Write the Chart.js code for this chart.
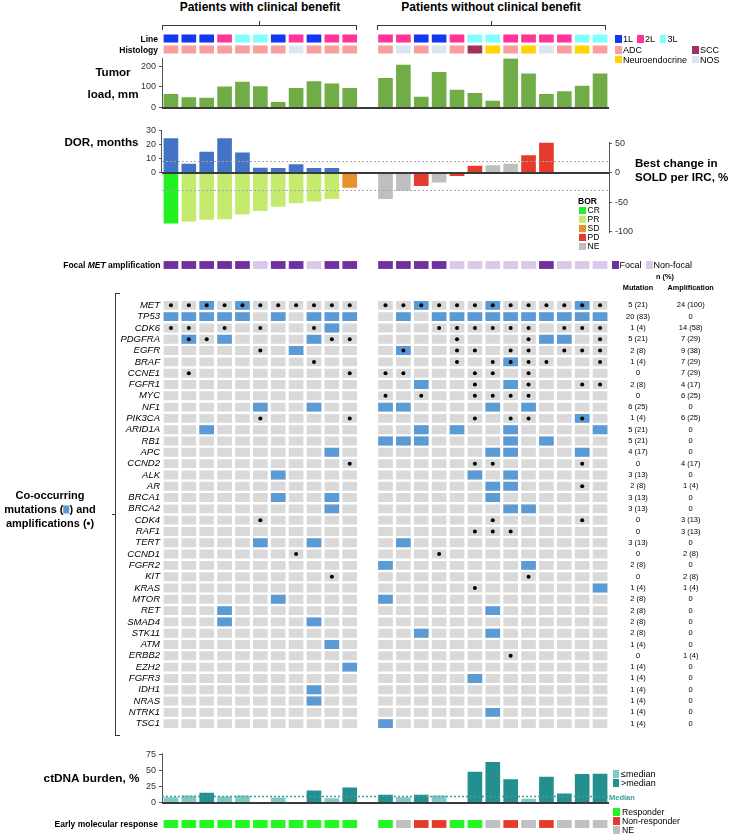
<!DOCTYPE html>
<html>
<head>
<meta charset="utf-8">
<title>Co-occurring alterations oncoprint</title>
<script src="https://cdn.jsdelivr.net/npm/chart.js@4.4.1/dist/chart.umd.min.js"></script>
<style>
  html,body{margin:0;padding:0;background:#fff;}
  #root{position:relative;width:729px;height:835px;overflow:hidden;font-family:'Liberation Sans',Arial,Helvetica,sans-serif;color:#000;}
  .t{position:absolute;white-space:nowrap;line-height:1;}
  .sq{position:absolute;}
  .ln{position:absolute;background:#3a3a3a;}
</style>
</head>
<body>
<div id="root"></div>
<script>
// ================= DATA =================
const leftPatients  = ['L1','L2','L3','L4','L5','L6','L7','L8','L9','L10','L11'];
const rightPatients = ['R1','R2','R3','R4','R5','R6','R7','R8','R9','R10','R11','R12','R13'];
const gapSlot = 'gap';
const categories = [...leftPatients, gapSlot, ...rightPatients];
const patients = [...leftPatients, ...rightPatients];

const groupTitles = ['Patients with clinical benefit', 'Patients without clinical benefit'];

const lineOfTherapy = ['1L','1L','1L','2L','3L','3L','1L','2L','1L','2L','2L',
                       '2L','2L','1L','1L','2L','3L','3L','2L','2L','2L','2L','3L','3L'];
const lineLevels = ['1L','2L','3L'];

const histology = ['ADC','ADC','ADC','ADC','ADC','ADC','ADC','NOS','ADC','ADC','ADC',
                   'ADC','NOS','ADC','NOS','ADC','SCC','Neuroendocrine','ADC','Neuroendocrine','NOS','ADC','Neuroendocrine','ADC'];

const tumorLoad = [64,48,46,101,123,102,26,93,126,115,93,
                   141,206,51,171,85,69,32,237,163,64,77,104,163];
const tumorTicks = [0,100,200];

const dorMonths = [24,6,14.5,24,14,3.3,3,5.8,3,3,null,
                   null,null,null,null,null,null,null,null,null,null,null,null,null];
const dorTicks = [0,10,20,30];

const soldChange = [-85,-82,-79,-78,-70,-64,-57,-51,-48,-44,-25,
                    -44,-30,-22,-16,-5,11,12,14.5,29,50,null,null,null];
const soldTicks = [-100,-50,0,50];
const soldRefLines = [20,-30];

const bestResponse = ['CR','PR','PR','PR','PR','PR','PR','PR','PR','PR','SD',
                      'NE','NE','PD','NE','PD','PD','NE','NE','PD','PD',null,null,null];
const borLevels = ['CR','PR','SD','PD','NE'];

const focalMet = ['Focal','Focal','Focal','Focal','Focal','Non-focal','Focal','Focal','Non-focal','Focal','Focal',
                  'Focal','Focal','Focal','Focal','Non-focal','Non-focal','Non-focal','Non-focal','Non-focal','Focal','Non-focal','Non-focal','Non-focal'];

const genes = ['MET','TP53','CDK6','PDGFRA','EGFR','BRAF','CCNE1','FGFR1','MYC','NF1','PIK3CA','ARID1A','RB1','APC','CCND2',
               'ALK','AR','BRCA1','BRCA2','CDK4','RAF1','TERT','CCND1','FGFR2','KIT','KRAS','MTOR','RET','SMAD4','STK11',
               'ATM','ERBB2','EZH2','FGFR3','IDH1','NRAS','NTRK1','TSC1'];

const mutations = [
  ['L3','L5','R3','R7','R12'],
  ['L1','L2','L3','L4','L5','L7','L9','L10','L11','R2','R4','R5','R6','R7','R8','R9','R10','R11','R12','R13'],
  ['L10'],
  ['L2','L4','L9','R10','R11'],
  ['L8','R2'],
  ['R8'],
  [],
  ['R3','R8'],
  [],
  ['L6','L9','R1','R2','R7','R9'],
  ['R12'],
  ['L3','R3','R5','R8','R13'],
  ['R1','R2','R3','R8','R10'],
  ['L10','R7','R8','R12'],
  [],
  ['L7','R6','R8'],
  ['R7','R8'],
  ['L7','L10','R7'],
  ['L10','R8','R9'],
  [],
  [],
  ['L6','L9','R2'],
  [],
  ['R1','R9'],
  [],
  ['R13'],
  ['L7','R1'],
  ['L4','R7'],
  ['L4','L9'],
  ['R3','R7'],
  ['L10'],
  [],
  ['L11'],
  ['R6'],
  ['L9'],
  ['L9'],
  ['R7'],
  ['R1']
];

const amplifications = [
  ['L1','L2','L3','L4','L5','L6','L7','L8','L9','L10','L11','R1','R2','R3','R4','R5','R6','R7','R8','R9','R10','R11','R12','R13'],
  [],
  ['L1','L2','L4','L6','L9','R4','R5','R6','R7','R8','R9','R11','R12','R13'],
  ['L2','L3','L10','L11','R5','R9','R13'],
  ['L6','R2','R5','R6','R8','R9','R11','R12','R13'],
  ['L9','R5','R7','R8','R9','R10','R13'],
  ['L2','L11','R1','R2','R6','R7','R9'],
  ['R6','R9','R12','R13'],
  ['R1','R3','R6','R7','R8','R9'],
  [],
  ['L6','L11','R6','R8','R9','R12'],
  [],
  [],
  [],
  ['L11','R6','R7','R12'],
  [],
  ['R12'],
  [],
  [],
  ['L6','R7','R12'],
  ['R6','R7','R8'],
  [],
  ['L8','R4'],
  [],
  ['L10','R9'],
  ['R6'],
  [], [], [], [], [],
  ['R8'],
  [], [], [], [], [], []
];

const ctdnaBurden = [7.8,10.5,14.5,8.8,10.5,null,7.2,null,18.1,6.2,22.8,
                     11.4,7.8,11.4,10.5,null,47.6,62.5,35.8,5.2,39.8,13.4,44,44.5];
const ctdnaMedian = 10.7;
const ctdnaTicks = [0,25,50,75];

const earlyResponse = ['Responder','Responder','Responder','Responder','Responder','Responder','Responder','Responder','Responder','Responder','Responder',
                       'Responder','NE','Non-responder','Non-responder','Responder','Responder','NE','Non-responder','NE','Non-responder','NE','NE','NE'];
const emrLevels = ['Responder','Non-responder','NE'];

// ================= STYLE =================
const palette = {
  line: {'1L':'#1238F2','2L':'#FF3399','3L':'#80FFFF'},
  histology: {'ADC':'#F99D9D','SCC':'#A5305E','Neuroendocrine':'#FFD400','NOS':'#DCE6F2'},
  tumor:'#70AD47', dor:'#4472C4',
  bor:{CR:'#22F022',PR:'#C4EB6E',SD:'#E8902C',PD:'#E53B2D',NE:'#BFBFBF'},
  focal:{'Focal':'#7030A0','Non-focal':'#DCC8EA'},
  cell:'#D9D9D9', mut:'#5B9BD5', amp:'#000000',
  ctLow:'#80C9C6', ctHigh:'#238F8F', median:'#3AA19C',
  emr:{'Responder':'#22F522','Non-responder':'#E53B2D','NE':'#BFBFBF'},
  axis:'#555555'
};
const FONT = "'Liberation Sans', Arial, Helvetica, sans-serif";
Chart.defaults.font.family = FONT;
Chart.defaults.color = '#000';

const root = document.getElementById('root');
const AREA_L = 162, AREA_R = 609, CW = 729;
const CELL_W = 14;

function withGap(arr){ return [...arr.slice(0,11), null, ...arr.slice(11)]; }
function addCanvas(top, h){
  const c = document.createElement('canvas');
  c.width = CW; c.height = h;
  c.style.cssText = `position:absolute;left:0;top:${top}px;width:${CW}px;height:${h}px`;
  root.appendChild(c);
  return c;
}
function baseOptions(padding){
  return {responsive:false, animation:false, events:[], layout:{padding},
          plugins:{legend:{display:false}, tooltip:{enabled:false}}};
}
function xScale(){ return {type:'category', labels:categories, offset:true, display:false, grid:{display:false}}; }
function addText(str, x, y, o={}){
  const d = document.createElement('div'); d.className='t';
  if (o.html) d.innerHTML = str; else d.textContent = str;
  d.style.fontSize = (o.size||9)+'px';
  d.style.fontWeight = o.weight||'normal';
  d.style.fontStyle = o.style||'normal';
  d.style.color = o.color||'#000';
  const a = o.align||'left';
  const tx = a==='left'?'0':a==='right'?'-100%':'-50%';
  d.style.left = x+'px'; d.style.top = y+'px';
  d.style.transform = `translate(${tx},-50%)`;
  root.appendChild(d);
}
function addRect(x, yc, w, h, color){
  const d = document.createElement('div'); d.className='sq';
  d.style.cssText += `left:${x}px;top:${yc-h/2}px;width:${w}px;height:${h}px;background:${color}`;
  root.appendChild(d);
}
function addLine(x, y, w, h, color){
  const d = document.createElement('div'); d.className='ln';
  d.style.cssText += `left:${x}px;top:${y}px;width:${w}px;height:${h}px;` + (color?`background:${color}`:'');
  root.appendChild(d);
}
function hLinePlugin(id, axisId, valuesFn, style){
  return {id, afterDatasetsDraw(chart){
    const {ctx, chartArea:a} = chart; const sc = chart.scales[axisId];
    ctx.save(); ctx.strokeStyle = style.color; ctx.lineWidth = style.width; ctx.setLineDash(style.dash||[]);
    valuesFn().forEach(v=>{ const y = Math.round(sc.getPixelForValue(v))+ (style.width%2?0.5:0);
      ctx.beginPath(); ctx.moveTo(a.left-(style.extL||0), y); ctx.lineTo(a.right+(style.extR||0), y); ctx.stroke(); });
    ctx.restore();
  }};
}

// ---------- cell-row charts (labels are drawn as HTML text) ----------
function cellRowsChart(top, h, rowColors, half){
  return new Chart(addCanvas(top, h), {
    type:'bar',
    data:{datasets: rowColors.map((colors,r)=>({
      data: patients.map(p=>({x:p, y:[r-half, r+half]})),
      backgroundColor: colors, barThickness:CELL_W, grouped:false, borderWidth:0
    }))},
    options: Object.assign(baseOptions({left:AREA_L, right:CW-AREA_R, top:0, bottom:0}),
      {scales:{x:xScale(), y:{type:'linear', reverse:true, min:-0.5, max:rowColors.length-0.5, display:false}}})
  });
}

// Line + Histology rows (row centers 38.5 / 49.5)
cellRowsChart(33, 22,
  [lineOfTherapy.map(v=>palette.line[v]), histology.map(v=>palette.histology[v])], 0.335);

// ---------- Tumor load ----------
new Chart(addCanvas(50, 66), {
  type:'bar',
  data:{datasets:[{data:withGap(tumorLoad), backgroundColor:palette.tumor, barThickness:CELL_W, grouped:false, borderWidth:0}]},
  options: Object.assign(baseOptions({left:AREA_L-30, right:CW-AREA_R, top:8, bottom:8.3}), {
    scales:{x:xScale(), y:{type:'linear', min:0, max:238,
      afterFit:s=>{s.width=30;}, afterBuildTicks:s=>{s.ticks=tumorTicks.map(v=>({value:v}));},
      ticks:{font:{size:9}, color:'#333', padding:3},
      grid:{display:true, drawOnChartArea:false, drawTicks:true, tickLength:3, color:palette.axis},
      border:{display:true, color:palette.axis}}}
  }),
  plugins:[hLinePlugin('zeroT','y',()=>[0],{color:'#3a3a3a', width:2})]
});

// ---------- DOR / SOLD ----------
new Chart(addCanvas(110, 140), {
  type:'bar',
  data:{datasets:[
    {data:withGap(dorMonths), yAxisID:'yDor', backgroundColor:palette.dor, barThickness:CELL_W, grouped:false, borderWidth:0},
    {data:withGap(soldChange), yAxisID:'ySold', backgroundColor:withGap(bestResponse).map(b=>b?palette.bor[b]:'rgba(0,0,0,0)'),
     barThickness:CELL_W, grouped:false, borderWidth:0}
  ]},
  options: Object.assign(baseOptions({left:AREA_L-30, right:CW-AREA_R-30, top:0, bottom:0}), {
    scales:{x:xScale(),
      yDor:{type:'linear', position:'left', min:-48.54, max:38.25,
        afterFit:s=>{s.width=30;}, afterBuildTicks:s=>{s.ticks=dorTicks.map(v=>({value:v}));},
        ticks:{font:{size:9}, color:'#333', padding:3},
        grid:{display:true, drawOnChartArea:false, drawTicks:true, tickLength:3, color:palette.axis},
        border:{display:false}},
      ySold:{type:'linear', position:'right', min:-116.3, max:91.64,
        afterFit:s=>{s.width=30;}, afterBuildTicks:s=>{s.ticks=soldTicks.map(v=>({value:v}));},
        ticks:{font:{size:9}, color:'#333', padding:3},
        grid:{display:true, drawOnChartArea:false, drawTicks:true, tickLength:3, color:palette.axis},
        border:{display:false}}
    }
  }),
  plugins:[
    {id:'axes', afterDatasetsDraw(chart){
      const {ctx, chartArea:a} = chart; const d = chart.scales.yDor, s = chart.scales.ySold;
      ctx.save(); ctx.strokeStyle = palette.axis; ctx.lineWidth = 1;
      ctx.beginPath(); ctx.moveTo(a.left-0.5, d.getPixelForValue(0)); ctx.lineTo(a.left-0.5, d.getPixelForValue(30)); ctx.stroke();
      ctx.beginPath(); ctx.moveTo(a.right+0.5, s.getPixelForValue(52)); ctx.lineTo(a.right+0.5, s.getPixelForValue(-102)); ctx.stroke();
      ctx.restore();
    }},
    hLinePlugin('refs','ySold',()=>soldRefLines,{color:'#a8a8a8', width:1, dash:[2,2]}),
    hLinePlugin('zeroD','ySold',()=>[0],{color:'#3a3a3a', width:2})
  ]
});

// ---------- Focal MET ----------
cellRowsChart(259, 12, [focalMet.map(v=>palette.focal[v])], 0.3);

// ---------- Oncoprint ----------
const ONC_TOP = 292, ONC_H = 445, CELL_HALF = 0.365;
const mutCount = mutations.map(a=>a.length);
const ampCount = amplifications.map(a=>a.length);
const pctText = n => n===0 ? '0' : `${n} (${Math.round(n/patients.length*100)})`;
const bgCells = [], mutCells = [], ampDots = [];
genes.forEach((g,r)=>{
  patients.forEach(p=>bgCells.push({x:p, y:[r-CELL_HALF, r+CELL_HALF]}));
  mutations[r].forEach(p=>mutCells.push({x:p, y:[r-CELL_HALF, r+CELL_HALF]}));
  amplifications[r].forEach(p=>ampDots.push({x:p, y:r}));
});
new Chart(addCanvas(ONC_TOP, ONC_H), {
  type:'bar',
  data:{datasets:[
    {data:bgCells, backgroundColor:palette.cell, barThickness:CELL_W, grouped:false, borderWidth:0, order:3},
    {data:mutCells, backgroundColor:palette.mut, barThickness:CELL_W, grouped:false, borderWidth:0, order:2},
    {type:'line', data:ampDots, showLine:false, pointRadius:2, pointBorderWidth:0, pointBackgroundColor:palette.amp, order:1}
  ]},
  options: Object.assign(baseOptions({left:AREA_L-80, right:CW-AREA_R, top:0, bottom:0}), {
    scales:{x:xScale(), y:{type:'linear', reverse:true, min:-0.5, max:genes.length-0.5,
      afterFit:s=>{s.width=80;}, afterBuildTicks:s=>{s.ticks=genes.map((_,i)=>({value:i}));},
      ticks:{autoSkip:false, padding:2, color:'#000', font:{size:9.5, style:'italic'}, callback:v=>genes[v]},
      grid:{display:false, drawTicks:false}, border:{display:false}}}
  }),
  plugins:[{id:'table', afterDatasetsDraw(chart){
    const {ctx} = chart; const sc = chart.scales.y;
    ctx.save(); ctx.fillStyle = '#000'; ctx.font = `7.5px ${FONT}`; ctx.textAlign='center'; ctx.textBaseline='middle';
    genes.forEach((g,i)=>{ const y = sc.getPixelForValue(i);
      ctx.fillText(pctText(mutCount[i]), 638, y); ctx.fillText(pctText(ampCount[i]), 690.7, y); });
    ctx.restore();
  }}]
});

// ---------- ctDNA ----------
new Chart(addCanvas(745, 66), {
  type:'bar',
  data:{datasets:[{data:withGap(ctdnaBurden),
    backgroundColor:withGap(ctdnaBurden).map(v=>v==null?'rgba(0,0,0,0)':(v>ctdnaMedian?palette.ctHigh:palette.ctLow)),
    barThickness:CELL_W, grouped:false, borderWidth:0}]},
  options: Object.assign(baseOptions({left:AREA_L-30, right:CW-AREA_R, top:8.3, bottom:8.5}), {
    scales:{x:xScale(), y:{type:'linear', min:0, max:76.55,
      afterFit:s=>{s.width=30;}, afterBuildTicks:s=>{s.ticks=ctdnaTicks.map(v=>({value:v}));},
      ticks:{font:{size:9}, color:'#333', padding:3},
      grid:{display:true, drawOnChartArea:false, drawTicks:true, tickLength:3, color:palette.axis},
      border:{display:true, color:palette.axis}}}
  }),
  plugins:[
    hLinePlugin('med','y',()=>[ctdnaMedian],{color:palette.median, width:1.5, dash:[2,2]}),
    hLinePlugin('zeroC','y',()=>[0],{color:'#3a3a3a', width:2})
  ]
});

// ---------- Early molecular response ----------
cellRowsChart(818, 12, [earlyResponse.map(v=>palette.emr[v])], 0.3);

// ================= TEXT & LEGENDS =================
addText(groupTitles[0], 260, 7, {size:12, weight:'bold', align:'center'});
addText(groupTitles[1], 491, 7, {size:12, weight:'bold', align:'center'});
[[161.5,357,259],[376.7,605.6,491.3]].forEach(([a,b,c])=>{
  addLine(a, 25, b-a, 1); addLine(a, 25, 1, 5); addLine(b-1, 25, 1, 5); addLine(c, 20.5, 1, 5);
});
addText('Line', 158, 38.7, {size:8.5, weight:'bold', align:'right'});
addText('Histology', 158, 49.7, {size:8.5, weight:'bold', align:'right'});
[['1L',615],['2L',637],['3L',659.5]].forEach(([k,x])=>{ addRect(x, 38.7, 6.5, 8, palette.line[k]); addText(k, x+8, 38.7, {size:9}); });
[['ADC',615,50],['SCC',692,50],['Neuroendocrine',615,59.5],['NOS',692,59.5]].forEach(([k,x,y])=>{
  addRect(x, y, 6.5, 7.5, palette.histology[k]); addText(k, x+8, y, {size:9}); });

addText('Tumor', 113, 72, {size:11.6, weight:'bold', align:'center'});
addText('load, mm', 113, 94, {size:11.6, weight:'bold', align:'center'});
addText('DOR, months', 138.5, 142, {size:11.6, weight:'bold', align:'right'});
addText('Best change in', 635, 162.7, {size:11.6, weight:'bold'});
addText('SOLD per IRC, %', 635, 176.7, {size:11.6, weight:'bold'});
addText('BOR', 578, 200.7, {size:8.5, weight:'bold'});
borLevels.forEach((b,i)=>{ const y = 210+i*9; addRect(579, y, 6.5, 7, palette.bor[b]); addText(b, 587.5, y, {size:8.5}); });

addText('Focal <i>MET</i> amplification', 160.5, 265, {size:8.5, weight:'bold', align:'right', html:true});
addRect(611.6, 265, 7, 7.5, palette.focal['Focal']); addText('Focal', 619.5, 265, {size:9});
addRect(645.6, 265, 7, 7.5, palette.focal['Non-focal']); addText('Non-focal', 653.5, 265, {size:9});

addText('n (%)', 665, 277.3, {size:7.3, weight:'bold', align:'center'});
addText('Mutation', 638, 288, {size:7.3, weight:'bold', align:'center'});
addText('Amplification', 690.7, 288, {size:7.3, weight:'bold', align:'center'});

addLine(115, 293, 1, 443); addLine(115, 293, 5, 1); addLine(115, 735, 5, 1); addLine(111.5, 514, 4, 1);
addText('Co-occurring', 50, 495, {size:11, weight:'bold', align:'center'});
addText(`mutations (<span style="display:inline-block;width:6px;height:8px;background:${palette.mut};vertical-align:-1px"></span>) and`, 50, 508.7, {size:11, weight:'bold', align:'center', html:true});
addText('amplifications (•)', 50, 522.5, {size:11, weight:'bold', align:'center'});

addText('ctDNA burden, %', 139.5, 779, {size:11.8, weight:'bold', align:'right'});
addRect(613, 774.3, 6, 8, palette.ctLow); addText('≤median', 621, 774.3, {size:9});
addRect(613, 783.3, 6, 8, palette.ctHigh); addText('>median', 621, 783.3, {size:9});
addText('Median', 609, 797.7, {size:7.5, weight:'bold', color:palette.median});

addText('Early molecular response', 158, 823.7, {size:8.5, weight:'bold', align:'right'});
emrLevels.forEach((k,i)=>{ const y = [811.7,821,830][i]; addRect(613, y, 7, 8, palette.emr[k]); addText(k, 622, y, {size:8.7}); });
</script>
</body>
</html>
